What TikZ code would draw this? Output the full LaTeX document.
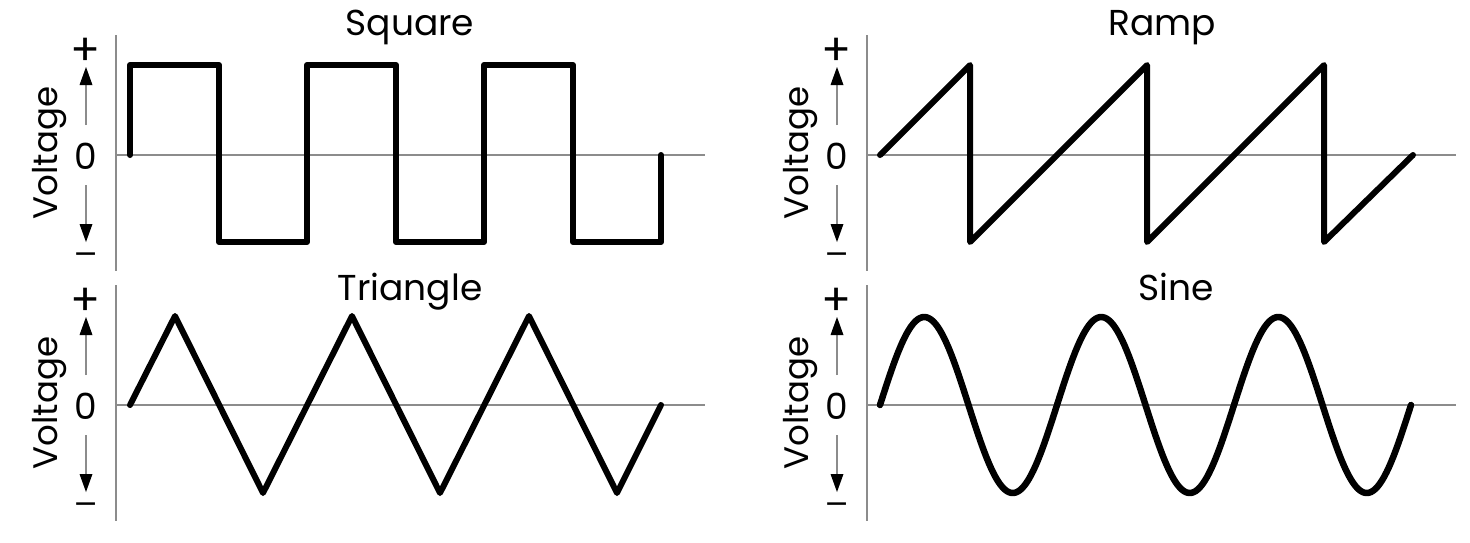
\documentclass[tikz,border=0pt]{standalone}
\usepackage{fontspec}
\setmainfont{Poppins}
\newfontfamily\symfont{DejaVu Sans}
\usetikzlibrary{arrows.meta}
\begin{document}
\begin{tikzpicture}[x=1pt,y=-1pt,
  axisline/.style={draw=black!45, line width=1.4pt},
  wave/.style={line width=6pt, line join=round, line cap=round},
  title/.style={font=\fontsize{36}{36}\selectfont, anchor=base, inner sep=0pt},
  ylab/.style={font=\fontsize{34}{34}\selectfont, rotate=90, anchor=base, inner sep=0pt},
  sign/.style={font=\fontsize{36}{36}\selectfont, inner sep=0pt},
  bigsign/.style={font=\fontsize{44}{44}\selectfont, inner sep=0pt},
  minsign/.style={font=\symfont\fontsize{30}{30}\selectfont, inner sep=0pt},
  shaft/.style={draw=black!45, line width=1.4pt},
  tiphead/.style={fill=black, draw=none}]
\useasboundingbox (0,0) rectangle (1470,542);
\foreach \dx/\dy/\n in {0/0/a,751/0/b,0/250/c,751/250/d}{
  \begin{scope}[shift={(\dx,\dy)}]
    \coordinate (axtop\n) at (116,35);
    \coordinate (axbot\n) at (116,271);
    \coordinate (zl\n) at (116,155);
    \coordinate (zr\n) at (705,155);
    \draw[axisline] (axtop\n) -- (axbot\n);
    \draw[axisline] (zl\n) -- (zr\n);
    \node[ylab] (volt\n) at (57,153) {Voltage};
    \node[bigsign] (plus\n) at (86,52) {+};
    \node[sign] (zero\n) at (86,156) {0};
    \node[minsign] (minus\n) at (86,258) {−};
    \coordinate (us\n) at (86,125);
    \coordinate (ub\n) at (86,85);
    \coordinate (ue\n) at (86,67);
    \coordinate (ds\n) at (86,185);
    \coordinate (db\n) at (86,224);
    \coordinate (de\n) at (86,242);
    \draw[shaft] (us\n) -- (ub\n);
    \fill[tiphead] (ue\n) -- ([xshift=-6.5pt]ub\n) -- ([xshift=6.5pt]ub\n) -- cycle;
    \draw[shaft] (ds\n) -- (db\n);
    \fill[tiphead] (de\n) -- ([xshift=-6.5pt]db\n) -- ([xshift=6.5pt]db\n) -- cycle;
  \end{scope}}
\node[title] (tsq) at (410,35) {Square};
\node[title] (tra) at (1162,35) {Ramp};
\node[title] (ttr) at (410,300) {Triangle};
\node[title] (tsi) at (1176,300) {Sine};
\draw[wave] (130,155) -- (130,65) -- (219,65) -- (219,242) -- (307,242) -- (307,65) -- (396,65) -- (396,242) -- (484,242) -- (484,65) -- (573,65) -- (573,242) -- (661,242) -- (661,155);
\draw[wave] (880,155) -- (970,65) -- (970,242) -- (1147,65) -- (1147,242) -- (1324,65) -- (1324,242) -- (1413,155);
\draw[wave] (130,405) -- (175,316) -- (263,493) -- (352,316) -- (440,493) -- (529,316) -- (617,493) -- (661,405);
\draw[wave, line width=6.5pt] plot[domain=0:1080, samples=240] ({880+0.49167*\x},{405-88*sin(\x)});
\end{tikzpicture}
\end{document}
